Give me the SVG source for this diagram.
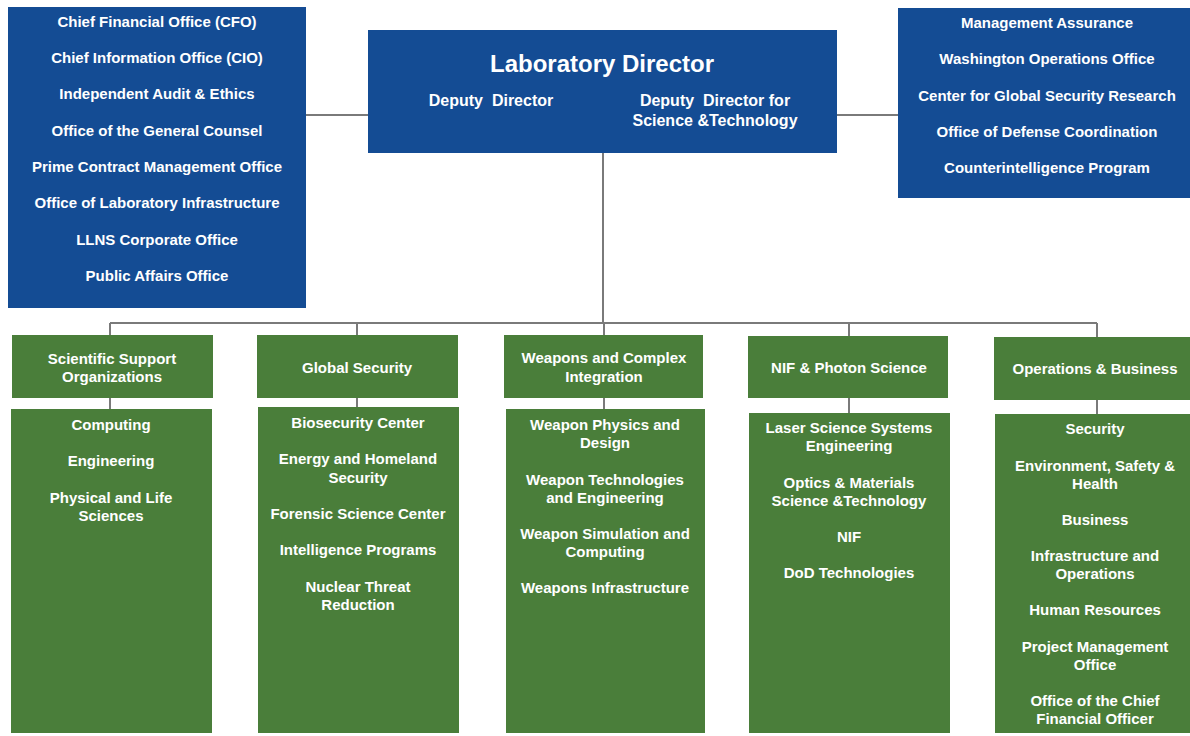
<svg xmlns="http://www.w3.org/2000/svg" width="1190" height="736" viewBox="0 0 1190 736">
<style>
.blue{fill:#144C94}
.green{fill:#4A7E3A}
text{font-family:"Liberation Sans",Arial,sans-serif;font-weight:bold;fill:#fff;text-anchor:middle;font-size:15px}
.big{font-size:24px}
.mid{font-size:16px}
.conn line{stroke:#7A7A7A;stroke-width:2;fill:none}
</style>
<rect width="1190" height="736" fill="#fff"/>
<g class="conn">
<line x1="306" y1="115" x2="368" y2="115"/>
<line x1="837" y1="115" x2="898" y2="115"/>
<line x1="603" y1="153" x2="603" y2="323"/>
<line x1="110" y1="323" x2="1097" y2="323"/>
<line x1="110" y1="323" x2="110" y2="335"/>
<line x1="357" y1="323" x2="357" y2="335"/>
<line x1="604" y1="323" x2="604" y2="335"/>
<line x1="849" y1="323" x2="849" y2="336"/>
<line x1="1097" y1="323" x2="1097" y2="337"/>
<line x1="110" y1="398" x2="110" y2="409"/>
<line x1="357" y1="398" x2="357" y2="407"/>
<line x1="604" y1="398" x2="604" y2="409"/>
<line x1="849" y1="398" x2="849" y2="413"/>
<line x1="1097" y1="400" x2="1097" y2="414"/>
</g>
<g id="staff-left">
<rect class="blue" x="8" y="7" width="298" height="301"/>
<text x="157" y="26.5">Chief Financial Office (CFO)</text>
<text x="157" y="63">Chief Information Office (CIO)</text>
<text x="157" y="99">Independent Audit &amp; Ethics</text>
<text x="157" y="135.5">Office of the General Counsel</text>
<text x="157" y="172">Prime Contract Management Office</text>
<text x="157" y="208">Office of Laboratory Infrastructure</text>
<text x="157" y="244.5">LLNS Corporate Office</text>
<text x="157" y="281">Public Affairs Office</text>
</g>
<g id="director">
<rect class="blue" x="368" y="30" width="469" height="123"/>
<text class="big" x="602" y="72">Laboratory Director</text>
<text class="mid" x="491" y="106" xml:space="preserve">Deputy  Director</text>
<text class="mid" x="715" y="106" xml:space="preserve">Deputy  Director for</text>
<text class="mid" x="715" y="126">Science &amp;Technology</text>
</g>
<g id="staff-right">
<rect class="blue" x="898" y="8" width="292" height="190"/>
<text x="1047" y="27.5">Management Assurance</text>
<text x="1047" y="64">Washington Operations Office</text>
<text x="1047" y="100.5">Center for Global Security Research</text>
<text x="1047" y="136.5">Office of Defense Coordination</text>
<text x="1047" y="173">Counterintelligence Program</text>
</g>
<g id="ssoh">
<rect class="green" x="12" y="335" width="201" height="63"/>
<text x="112" y="363.5">Scientific Support</text>
<text x="112" y="381.5">Organizations</text>
</g>
<g id="ssod">
<rect class="green" x="11" y="409" width="201" height="324"/>
<text x="111" y="429.5">Computing</text>
<text x="111" y="465.5">Engineering</text>
<text x="111" y="502.5">Physical and Life</text>
<text x="111" y="520.5">Sciences</text>
</g>
<g id="gsh">
<rect class="green" x="257" y="335" width="201" height="63"/>
<text x="357" y="372.5">Global Security</text>
</g>
<g id="gsd">
<rect class="green" x="258" y="407" width="201" height="326"/>
<text x="358" y="427.5">Biosecurity Center</text>
<text x="358" y="463.5">Energy and Homeland</text>
<text x="358" y="482.5">Security</text>
<text x="358" y="518.5">Forensic Science Center</text>
<text x="358" y="554.5">Intelligence Programs</text>
<text x="358" y="591.5">Nuclear Threat</text>
<text x="358" y="609.5">Reduction</text>
</g>
<g id="wcih">
<rect class="green" x="504" y="335" width="199" height="63"/>
<text x="604" y="362.5">Weapons and Complex</text>
<text x="604" y="381.5">Integration</text>
</g>
<g id="wcid">
<rect class="green" x="506" y="409" width="199" height="324"/>
<text x="605" y="429.5">Weapon Physics and</text>
<text x="605" y="447.5">Design</text>
<text x="605" y="484.5">Weapon Technologies</text>
<text x="605" y="502.5">and Engineering</text>
<text x="605" y="538.5">Weapon Simulation and</text>
<text x="605" y="556.5">Computing</text>
<text x="605" y="592.5">Weapons Infrastructure</text>
</g>
<g id="nifh">
<rect class="green" x="748" y="336" width="200" height="62"/>
<text x="849" y="372.5">NIF &amp; Photon Science</text>
</g>
<g id="nifd">
<rect class="green" x="749" y="413" width="201" height="320"/>
<text x="849" y="432.5">Laser Science Systems</text>
<text x="849" y="450.5">Engineering</text>
<text x="849" y="487.5">Optics &amp; Materials</text>
<text x="849" y="505.5">Science &amp;Technology</text>
<text x="849" y="541.5">NIF</text>
<text x="849" y="577.5">DoD Technologies</text>
</g>
<g id="obh">
<rect class="green" x="994" y="337" width="196" height="63"/>
<text x="1095" y="373.5">Operations &amp; Business</text>
</g>
<g id="obd">
<rect class="green" x="995" y="414" width="195" height="319"/>
<text x="1095" y="433.5">Security</text>
<text x="1095" y="470.5">Environment, Safety &amp;</text>
<text x="1095" y="488.5">Health</text>
<text x="1095" y="524.5">Business</text>
<text x="1095" y="560.5">Infrastructure and</text>
<text x="1095" y="578.5">Operations</text>
<text x="1095" y="614.5">Human Resources</text>
<text x="1095" y="651.5">Project Management</text>
<text x="1095" y="669.5">Office</text>
<text x="1095" y="705.5">Office of the Chief</text>
<text x="1095" y="723.5">Financial Officer</text>
</g>
</svg>
